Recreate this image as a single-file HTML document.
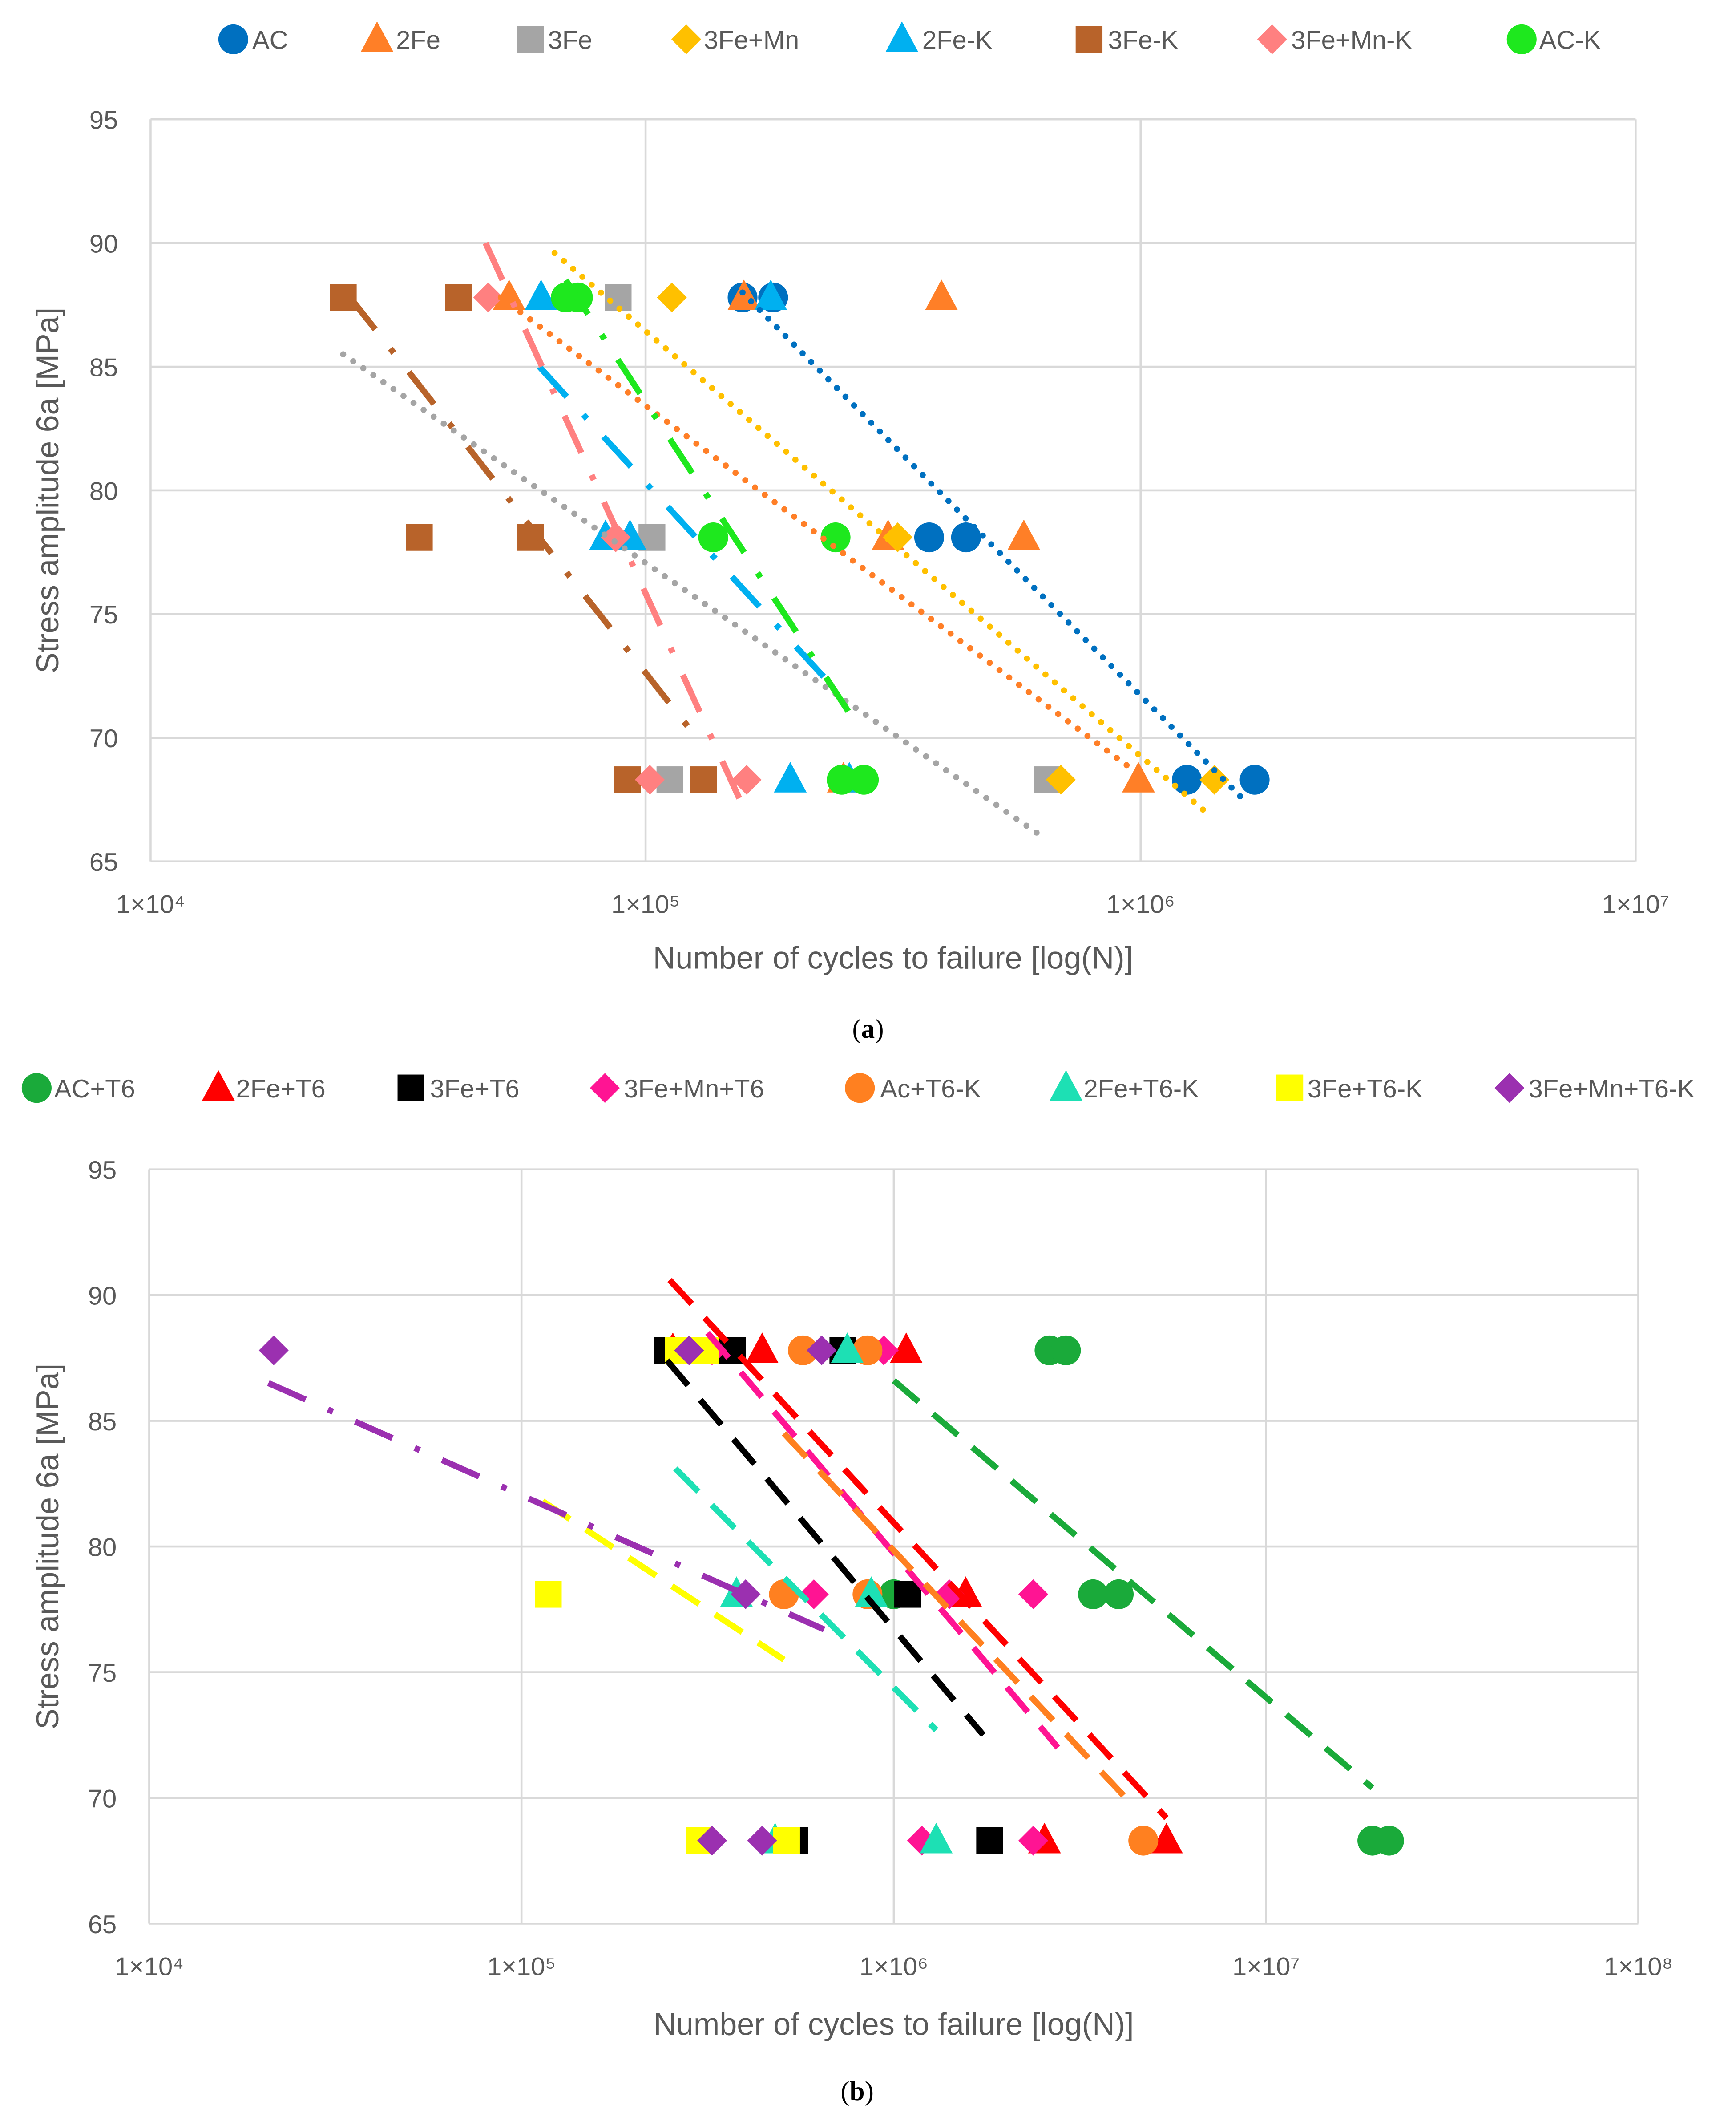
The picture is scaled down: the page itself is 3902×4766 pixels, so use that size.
<!DOCTYPE html>
<html><head><meta charset="utf-8">
<style>
html,body{margin:0;padding:0;background:#fff;}
svg{display:block;font-family:"Liberation Sans",sans-serif;}
</style></head>
<body>
<svg id="root" width="3902" height="4766" viewBox="0 0 1280 1563.5" xmlns="http://www.w3.org/2000/svg">
<text x="640" y="765" font-family="Liberation Serif" font-size="20" text-anchor="middle" fill="#000">(<tspan font-weight="bold">a</tspan>)</text>
<text x="632" y="1548" font-family="Liberation Serif" font-size="20" text-anchor="middle" fill="#000">(<tspan font-weight="bold">b</tspan>)</text>
</svg>
<script>
// ===== Chart (a) data =====
const aSeries = ['AC','2Fe','3Fe','3Fe+Mn','2Fe-K','3Fe-K','3Fe+Mn-K','AC-K'];
const aN = [
 [1.57e5,1.81e5,3.74e5,4.44e5,1.24e6,1.70e6],
 [5.3e4,1.58e5,3.96e5,3.09e5,5.81e5,2.51e5,9.9e5],
 [8.8e4,1.03e5,1.12e5,6.47e5],
 [1.13e5,3.23e5,6.9e5,1.41e6],
 [6.15e4,1.79e5,8.3e4,9.3e4,1.96e5,2.58e5],
 [2.45e4,4.19e4,3.49e4,5.85e4,9.2e4,1.31e5],
 [4.81e4,8.7e4,1.02e5,1.6e5],
 [6.9e4,7.3e4,1.37e5,2.42e5,2.49e5,2.76e5]
];
const aS = [
 [87.8,87.8,78.1,78.1,68.3,68.3],
 [87.8,87.8,87.8,78.1,78.1,68.3,68.3],
 [87.8,78.1,68.3,68.3],
 [87.8,78.1,68.3,68.3],
 [87.8,87.8,78.1,78.1,68.3,68.3],
 [87.8,87.8,78.1,78.1,68.3,68.3],
 [87.8,78.1,68.3,68.3],
 [87.8,87.8,78.1,78.1,68.3,68.3]
];
const aTrend = [
 [1.57e5,88,1.65e6,67.3],
 [5.1e4,87.8,9.8e5,68.6],
 [2.45e4,85.5,6.23e5,66.1],
 [6.55e4,89.6,1.39e6,66.8],
 [6.1e4,85,2.33e5,72.3],
 [2.53e4,87.8,1.28e5,69.9],
 [4.75e4,90,1.55e5,67.5],
 [6.9e4,88.5,2.58e5,71]
];
const aTickLabels = ['1×10⁴','1×10⁵','1×10⁶','1×10⁷'];
const aYTicks = [65,70,75,80,85,90,95];

// ===== Chart (b) data =====
const bSeries = ['AC+T6','2Fe+T6','3Fe+T6','3Fe+Mn+T6','Ac+T6-K','2Fe+T6-K','3Fe+T6-K','3Fe+Mn+T6-K'];
const bN = [
 [2.62e6,2.9e6,1.0e6,3.43e6,4.02e6,1.93e7,2.14e7],
 [2.55e5,4.43e5,1.08e6,1.56e6,2.54e6,5.4e6],
 [2.46e5,3.69e5,7.3e5,1.09e6,5.42e5,1.81e6],
 [3.25e5,9.4e5,6.1e5,1.41e6,2.37e6,1.19e6,2.37e6],
 [5.7e5,8.5e5,5.07e5,8.5e5,4.68e6],
 [7.5e5,3.78e5,8.7e5,4.8e5,1.3e6],
 [2.64e5,3.12e5,1.18e5,3.01e5,5.15e5],
 [2.16e4,2.82e5,6.4e5,4.0e5,3.25e5,4.43e5]
];
const bS = [
 [87.8,87.8,78.1,78.1,78.1,68.3,68.3],
 [87.8,87.8,87.8,78.1,68.3,68.3],
 [87.8,87.8,87.8,78.1,68.3,68.3],
 [87.8,87.8,78.1,78.1,78.1,68.3,68.3],
 [87.8,87.8,78.1,78.1,68.3],
 [87.8,78.1,78.1,68.3,68.3],
 [87.8,87.8,78.1,68.3,68.3],
 [87.8,87.8,87.8,78.1,68.3,68.3]
];
const bTrend = [
 [1.0e6,86.6,1.93e7,70.4],
 [2.5e5,90.6,5.4e6,69.2],
 [2.46e5,87.4,1.74e6,72.5],
 [3.16e5,88.5,2.76e6,72],
 [5.07e5,84.5,4.2e6,70],
 [2.59e5,83.1,1.3e6,72.7],
 [1.14e5,81.8,5.07e5,75.5],
 [2.09e4,86.5,6.5e5,76.7]
];
const bTickLabels = ['1×10⁴','1×10⁵','1×10⁶','1×10⁷','1×10⁸'];
const bYTicks = [65,70,75,80,85,90,95];

const NS='http://www.w3.org/2000/svg';
const root=document.getElementById('root');
function el(tag,attrs,parent){const e=document.createElementNS(NS,tag);for(const k in attrs)e.setAttribute(k,attrs[k]);(parent||root).appendChild(e);return e;}

function marker(g,shape,color,x,y,r){
  let m;
  if(shape==='circle') m=el('circle',{cx:x,cy:y,r:r,fill:color},g);
  else if(shape==='tri') m=el('polygon',{points:`${x},${y-r*1.2} ${x+r*1.1},${y+r*0.85} ${x-r*1.1},${y+r*0.85}`,fill:color},g);
  else if(shape==='square') m=el('rect',{x:x-r*0.9,y:y-r*0.9,width:r*1.8,height:r*1.8,fill:color},g);
  else m=el('polygon',{points:`${x},${y-r} ${x+r},${y} ${x},${y+r} ${x-r},${y}`,fill:color},g);
  return m;
}

function chart(cfg){
  const {x0,x1,y0,y1,dec0,decs,ymin,ymax,series,N,S,trend,shapes,colors,styles,ticks,yticks,legendY,legendX,textX,xTitleY,prefix}=cfg;
  const sx=n=>x0+(Math.log10(n)-dec0)/decs*(x1-x0);
  const sy=s=>y1-(s-ymin)/(ymax-ymin)*(y1-y0);
  const g=el('g',{});
  
  
  for(const t of yticks){
    const l=el('line',{x1:x0,x2:x1,y1:sy(t),y2:sy(t),stroke:'#d9d9d9','stroke-width':1.5},g);
    
    
    const tx=el('text',{x:x0-24,y:sy(t)+7,'font-size':19,fill:'#595959','text-anchor':'end'},g);
    tx.textContent=t;
    
    
  }
  ticks.forEach((lab,i)=>{
    const x=x0+i/decs*(x1-x0);
    const l=el('line',{x1:x,x2:x,y1:y0,y2:y1,stroke:'#d9d9d9','stroke-width':1.5},g);
    
    
    const tx=el('text',{x:x,y:y1+38,'font-size':19,fill:'#595959','text-anchor':'middle'},g);
    tx.textContent=lab;
    
    
  });
  const yt=el('text',{x:0,y:0,'font-size':23,fill:'#595959','text-anchor':'middle',transform:`translate(43,${(y0+y1)/2}) rotate(-90)`},g);
  yt.textContent='Stress amplitude 6a [MPa]';
  
  
  const xt=el('text',{x:(x0+x1)/2,y:xTitleY,'font-size':23,fill:'#595959','text-anchor':'middle'},g);
  xt.textContent='Number of cycles to failure [log(N)]';
  
  
  series.forEach((name,i)=>{
    const sg=el('g',{},g);
    
    
    N[i].forEach((n,j)=>{
      const m=marker(sg,shapes[i],colors[i],sx(n),sy(S[i][j]),11);
      
      
    });
  });
  trend.forEach((t,i)=>{
    const l=el('line',{x1:sx(t[0]),y1:sy(t[1]),x2:sx(t[2]),y2:sy(t[3]),stroke:colors[i],'stroke-width':4.5,'stroke-dasharray':styles[i],'stroke-linecap':styles[i]==='0 9'?'round':'butt'},g);
    
    
  });
  series.forEach((name,i)=>{
    const m=marker(g,shapes[i],colors[i],legendX[i],legendY,11);
    
    
    const tx=el('text',{x:textX[i],y:legendY+7,'font-size':19,fill:'#595959'},g);
    tx.textContent=name;
    
    
  });
}

const DOT='0 9', DD='30 18 4 18', DASH='24 14';
chart({x0:111,x1:1206,y0:88,y1:635,dec0:4,decs:3,ymin:65,ymax:95,series:aSeries,N:aN,S:aS,trend:aTrend,
  shapes:['circle','tri','square','diamond','tri','square','diamond','circle'],
  colors:['#0070C0','#FF7F27','#A5A5A5','#FFC000','#00B0F0','#B8632A','#FF8080','#1EE81E'],
  styles:[DOT,DOT,DOT,DOT,DD,DD,DD,DD],ticks:aTickLabels,yticks:aYTicks,
  legendY:29,legendX:[172,278,391,506,665,803,938,1122],textX:[186,292,404,519,680,817,952,1135],xTitleY:714,prefix:'chart-a'});
chart({x0:110,x1:1208,y0:862,y1:1418,dec0:4,decs:4,ymin:65,ymax:95,series:bSeries,N:bN,S:bS,trend:bTrend,
  shapes:['circle','tri','square','diamond','circle','tri','square','diamond'],
  colors:['#1AAA3A','#FF0000','#000000','#FF1493','#FF8020','#1DE0B4','#FFFF00','#9B30B0'],
  styles:[DASH,DASH,DASH,DASH,DASH,DASH,DASH,DD],ticks:bTickLabels,yticks:bYTicks,
  legendY:802,legendX:[27,161,303,446,634,786,951,1113],textX:[40,174,317,460,649,799,964,1127],xTitleY:1500,prefix:'chart-b'});
</script>
</body></html>
